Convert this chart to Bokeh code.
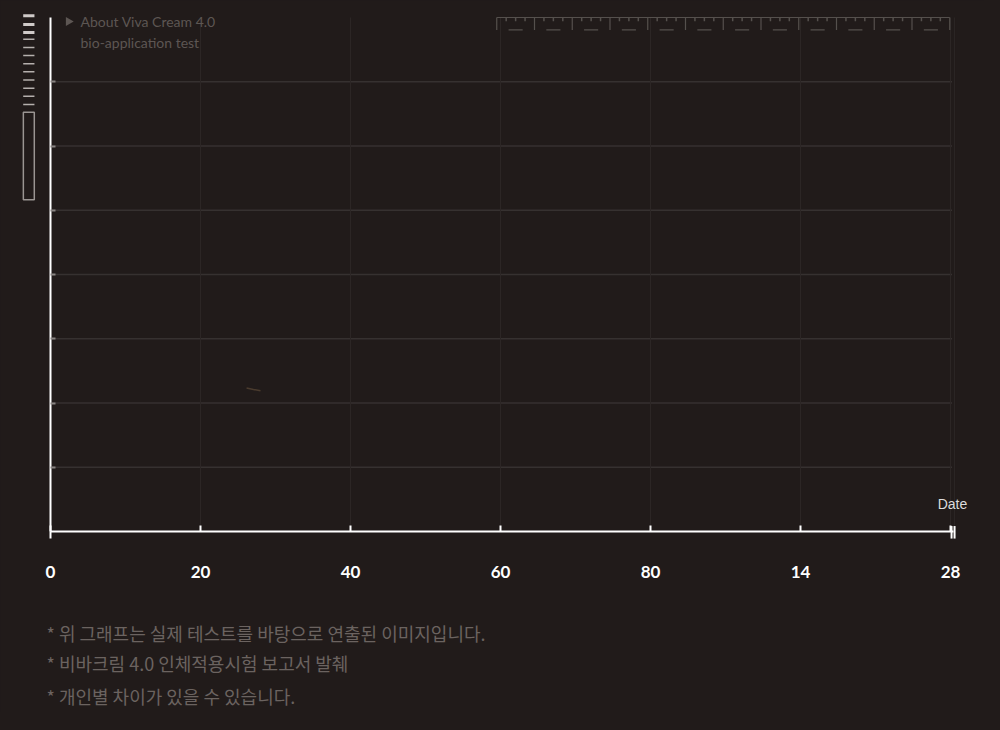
import numpy as np
from bokeh.plotting import figure
from bokeh.models import Range1d, LinearAxis, FixedTicker, GlobalInlineStyleSheet
from bokeh.core.properties import value
from bokeh.embed import file_html
from bokeh.resources import INLINE

BG = "#211b1a"

# x axis: seven equally spaced checkpoints, labelled as in the original
x_pos = [0, 1, 2, 3, 4, 5, 6]
x_labels = ["0", "20", "40", "60", "80", "14", "28"]
y_levels = [1, 2, 3, 4, 5, 6, 7]
y_top = 8

# very faint start of a trend line (barely visible in the original)
trend_x = [1.307, 1.353, 1.40]
trend_y = [2.233, 2.21, 2.19]

title_lines = ["About Viva Cream 4.0", "bio-application test"]
notes = ["* 위 그래프는 실제 테스트를 바탕으로 연출된 이미지입니다.",
         "* 비바크림 4.0 인체적용시험 보고서 발췌",
         "* 개인별 차이가 있을 수 있습니다."]

# scale of 150 px per x unit, 64.25 px per y unit
W, H = 984, 712
p = figure(width=W, height=H, output_backend="svg", toolbar_location=None,
           x_axis_type=None, y_axis_type=None, title=None,
           x_range=Range1d(-50 / 150, (W - 50) / 150),
           y_range=Range1d(-(H - 531) / 64.25, 531 / 64.25),
           min_border=0)
p.background_fill_color = BG
p.border_fill_color = BG
p.outline_line_color = None
p.stylesheets = [GlobalInlineStyleSheet(css="html, body {background-color: #211b1a;}")]

# grid lines, limited to the plotting area
p.segment(x0=0.01, y0=y_levels, x1=6.01, y1=y_levels, line_color="#363130", line_width=1.5)
vx = x_pos[1:] + [6.027]
p.segment(x0=vx, y0=0, x1=vx, y1=y_top, line_color="#2c2625", line_width=1)

# x axis
xaxis = LinearAxis(fixed_location=0, ticker=FixedTicker(ticks=x_pos),
                   major_label_overrides={i: s for i, s in zip(x_pos, x_labels)},
                   bounds=(0, 6.02))
xaxis.axis_line_color = "white"
xaxis.axis_line_width = 2
xaxis.major_tick_line_color = "white"
xaxis.major_tick_line_width = 2
xaxis.major_tick_in = 6
xaxis.major_tick_out = 0
xaxis.minor_tick_line_color = None
xaxis.major_label_standoff = 34
xaxis.major_label_text_color = "white"
xaxis.major_label_text_font = "Lato"
xaxis.major_label_text_font_style = "bold"
xaxis.major_label_text_font_size = "17px"
p.add_layout(xaxis, "below")

# y axis (ticks only, no labels)
yaxis = LinearAxis(fixed_location=0, ticker=FixedTicker(ticks=y_levels), bounds=(0, y_top),
                   major_label_overrides={i: "" for i in y_levels})
yaxis.axis_line_color = "white"
yaxis.axis_line_width = 2
yaxis.major_tick_line_color = "#8a8583"
yaxis.major_tick_line_width = 2
yaxis.major_tick_in = 5
yaxis.major_tick_out = 0
yaxis.minor_tick_line_color = None
p.add_layout(yaxis, "left")

# end markers on the x axis
p.segment(x0=[0], y0=[0], x1=[0], y1=[-0.11], line_color="white", line_width=2)
p.segment(x0=[6.007, 6.027], y0=[-0.11, -0.11], x1=[6.007, 6.027], y1=[0.085, 0.085],
          line_color="white", line_width=2)

p.text(x=[6.013], y=[0.43], text=["Date"], text_align="center", text_baseline="middle",
       text_font=value("Liberation Sans"), text_font_size="14px", text_color="#dcdcdc")

# faint trend start
p.line(trend_x, trend_y, line_color="#4a3b2e", line_width=1.5)

# ruler at the top right
r0, r1, nseg = 2.975, 5.995, 12
majors = np.linspace(r0, r1, nseg + 1)
step = (r1 - r0) / nseg
minors = np.concatenate([majors[:-1] + step * f for f in (0.25, 0.5, 0.75)])
centers = majors[:-1] + step / 2
ruler_color = "#55504d"
p.segment(x0=[r0], y0=[8.0], x1=[r1], y1=[8.0], line_color=ruler_color, line_width=1.2)
p.segment(x0=majors, y0=8.0, x1=majors, y1=7.805, line_color=ruler_color, line_width=1.2)
p.segment(x0=minors, y0=8.0, x1=minors, y1=7.943, line_color=ruler_color, line_width=1.5)
p.segment(x0=centers - 0.047, y0=7.808, x1=centers + 0.047, y1=7.808,
          line_color=ruler_color, line_width=1.2)

# scroll-like indicator at the top left
bar_y = [8.026, 7.891, 7.767]
thin_y = [7.662, 7.535, 7.408, 7.281, 7.154, 7.027, 6.900, 6.773, 6.646]
p.segment(x0=-0.182, y0=bar_y, x1=-0.107, y1=bar_y, line_color="#cfcac8", line_width=3)
p.segment(x0=-0.182, y0=thin_y, x1=-0.107, y1=thin_y, line_color="#b5b0ad", line_width=1.5)
p.quad(left=[-0.181], right=[-0.108], top=[6.526], bottom=[5.163], fill_color=None,
       line_color="#9a9592", line_width=1.5)

# title block
p.scatter(x=[0.12], y=[7.938], marker="triangle", angle=-np.pi / 2, size=9,
          fill_color="#5d5653", line_color=None)
p.text(x=[0.2, 0.2], y=[7.938, 7.611], text=title_lines, text_baseline="middle",
       text_font=value("Lato"), text_font_size="14px", text_color="#5d5653")

# footnotes
p.text(x=[-0.027] * 3, y=[-1.572, -2.054, -2.553], text=notes, text_baseline="middle",
       text_font=value("Noto Sans CJK KR"), text_font_size="18px", text_color="#6b6360")

open("out.html", "w").write(file_html(p, INLINE))
